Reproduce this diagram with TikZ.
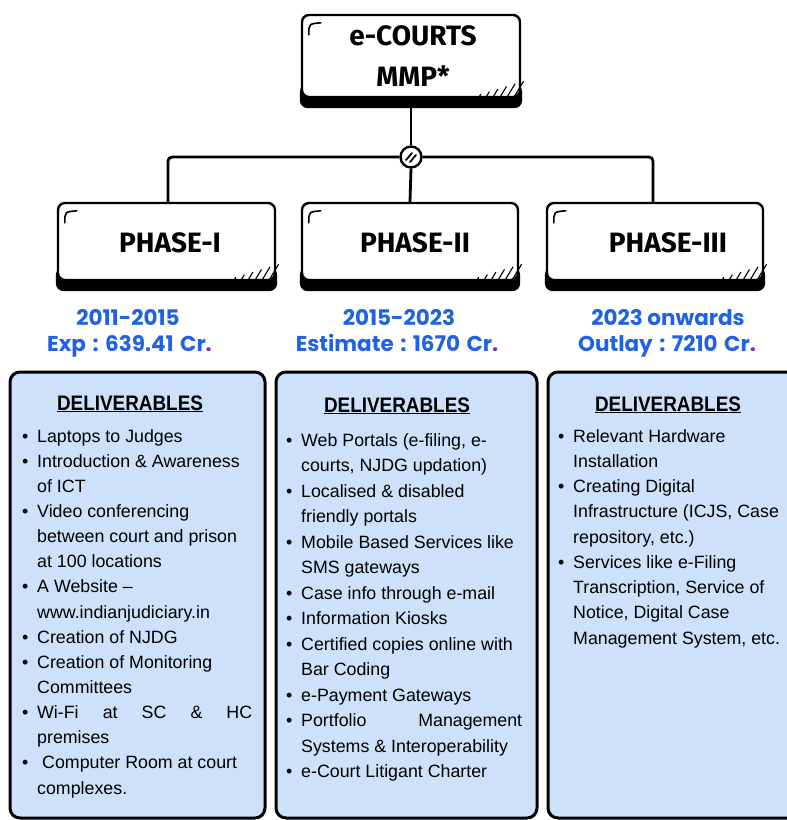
\documentclass[tikz,border=0pt]{standalone}
\usepackage{fontspec}
\usepackage{graphicx}
\usetikzlibrary{backgrounds}
\setmainfont{Liberation Sans}
\newfontfamily\headfont{Fira Sans}
\newfontfamily\yearfont{Poppins}
\definecolor{yearblue}{HTML}{1F62E2}
\definecolor{dotpurple}{HTML}{7B2EC7}
\definecolor{panelblue}{HTML}{CDE1FB}
\newcommand{\itembul}{\makebox[15pt][l]{\textbullet}}
\newcommand{\itemind}{\hspace*{15pt}}
\newcommand{\pdot}{\textcolor{dotpurple}{.}}
\newcommand{\ysp}{\hspace{0.3em}}
\tikzset{
  sketchbox/.style={draw=black, line width=2.4pt, fill=white, rounded corners=7pt, inner sep=0pt},
  boxlabel/.style={font=\headfont\bfseries\fontsize{28}{41}\selectfont, align=center, inner sep=0pt},
  joint/.style={circle, draw=black, fill=white, line width=2.4pt, minimum size=21pt, inner sep=0pt},
  wire/.style={line width=2.8pt, rounded corners=4pt},
  panel/.style={draw=black, line width=3pt, fill=panelblue, rounded corners=10pt, inner sep=0pt},
  dhead/.style={font=\bfseries\fontsize{21}{24}\selectfont, inner sep=0pt, anchor=base},
  item/.style={font=\fontsize{17.8}{25}\selectfont, inner sep=0pt, anchor=base west},
  yearline/.style={font=\yearfont\bfseries\fontsize{21.5}{24}\selectfont, text=yearblue, inner sep=0pt, anchor=base},
  hatchline/.style={line width=1.1pt},
}
\newcommand{\boxdeco}[1]{%
  \begin{scope}[on background layer]
    \fill[black, rounded corners=8pt] ([shift={(-1,-14)}]#1.south west) rectangle ([shift={(1,10)}]#1.south east);
  \end{scope}
  \draw[line width=1.6pt, line cap=round] ([shift={(8,21)}]#1.north west) .. controls ([shift={(8,10)}]#1.north west) .. ([shift={(20,9)}]#1.north west);
  \foreach \k in {0,...,5} {
    \draw[hatchline] ([shift={({-9-7*\k},2)}]#1.south east) -- ++({0.6*(19-2.6*\k)},{-(19-2.6*\k)});
  }
}
\begin{document}
\begin{tikzpicture}[x=1pt,y=-1pt]
\useasboundingbox (0,0) rectangle (787,820);

% top box
\node[sketchbox, minimum width=218pt, minimum height=82pt] (top) at (411,56) {};
\node[boxlabel] (toptext) at (413,56) {e-COURTS\\MMP*};
\boxdeco{top}

% phase boxes
\node[sketchbox, minimum width=217pt, minimum height=77pt] (p1) at (166.5,241.5) {};
\node[sketchbox, minimum width=216pt, minimum height=77pt] (p2) at (410,241.5) {};
\node[sketchbox, minimum width=216pt, minimum height=77pt] (p3) at (655,241.5) {};
\boxdeco{p1}
\boxdeco{p2}
\boxdeco{p3}
\node[boxlabel] (p1t) at (170,243) {PHASE-I};
\node[boxlabel] (p2t) at (415,243) {PHASE-II};
\node[boxlabel] (p3t) at (668,243) {PHASE-III};

% junction and connectors
\node[joint] (j) at (411,157) {};
\draw[line width=1.8pt, line cap=round] ([shift={(-5,3)}]j.center) -- ([shift={(1,-4)}]j.center);
\draw[line width=1.8pt, line cap=round] ([shift={(-1,5)}]j.center) -- ([shift={(5,-2)}]j.center);
\draw[wire] (top.south) -- (j.north);
\draw[wire] (j.west) -| ([xshift=1.5pt]p1.north);
\draw[wire] (j.east) -| ([xshift=-2pt]p3.north);
\draw[wire] (j.south) -- (p2.north);

% year labels
\node[yearline] (ya1) at (128,325) {2011-2015};
\node[yearline] (ya2) at (129.5,351) {Exp\ysp:\ysp639.41\ysp Cr\pdot};
\node[yearline] (yb1) at (399,325) {2015-2023};
\node[yearline] (yb2) at (397,351) {Estimate\ysp:\ysp1670\ysp Cr\pdot};
\node[yearline] (yc1) at (668,325) {2023 onwards};
\node[yearline] (yc2) at (667,351) {Outlay\ysp:\ysp7210\ysp Cr\pdot};

% panels
\node[panel, minimum width=255pt, minimum height=446pt] (pa) at (137.5,595) {};
\node[panel, minimum width=261pt, minimum height=446pt] (pb) at (406.5,595) {};
\node[panel, minimum width=252pt, minimum height=446pt] (pc) at (674,595) {};

\node[dhead] (ha) at (130,410) {\underline{\scalebox{0.9}[1]{DELIVERABLES}}};
\node[dhead] (hb) at (397,412) {\underline{\scalebox{0.9}[1]{DELIVERABLES}}};
\node[dhead] (hc) at (668,411) {\underline{\scalebox{0.9}[1]{DELIVERABLES}}};

\foreach \t [count=\i from 0] in {
  {\itembul Laptops to Judges},
  {\itembul Introduction \& Awareness},
  {\itemind of ICT},
  {\itembul Video conferencing},
  {\itemind between court and prison},
  {\itemind at 100 locations},
  {\itembul A Website --},
  {\itemind www.indianjudiciary.in},
  {\itembul Creation of NJDG},
  {\itembul Creation of Monitoring},
  {\itemind Committees},
  {\itembul \makebox[215pt][s]{Wi-Fi at SC \& HC}},
  {\itemind premises},
  {\itembul \hspace*{5pt}Computer Room at court},
  {\itemind complexes.}}
{
  \node[item] (a\i) at (22,{442+25.15*\i}) {\t};
}

\foreach \t [count=\i from 0] in {
  {\itembul Web Portals (e-filing, e-},
  {\itemind courts, NJDG updation)},
  {\itembul Localised \& disabled},
  {\itemind friendly portals},
  {\itembul Mobile Based Services like},
  {\itemind SMS gateways},
  {\itembul Case info through e-mail},
  {\itembul Information Kiosks},
  {\itembul Certified copies online with},
  {\itemind Bar Coding},
  {\itembul e-Payment Gateways},
  {\itembul \makebox[221pt][s]{Portfolio Management}},
  {\itemind Systems \& Interoperability},
  {\itembul e-Court Litigant Charter}}
{
  \node[item] (b\i) at (286,{446+25.5*\i}) {\t};
}

\foreach \t [count=\i from 0] in {
  {\itembul Relevant Hardware},
  {\itemind Installation},
  {\itembul Creating Digital},
  {\itemind Infrastructure (ICJS, Case},
  {\itemind repository, etc.)},
  {\itembul Services like e-Filing},
  {\itemind Transcription, Service of},
  {\itemind Notice, Digital Case},
  {\itemind Management System, etc.}}
{
  \node[item] (c\i) at (558,{442+25.25*\i}) {\t};
}
\end{tikzpicture}
\end{document}
